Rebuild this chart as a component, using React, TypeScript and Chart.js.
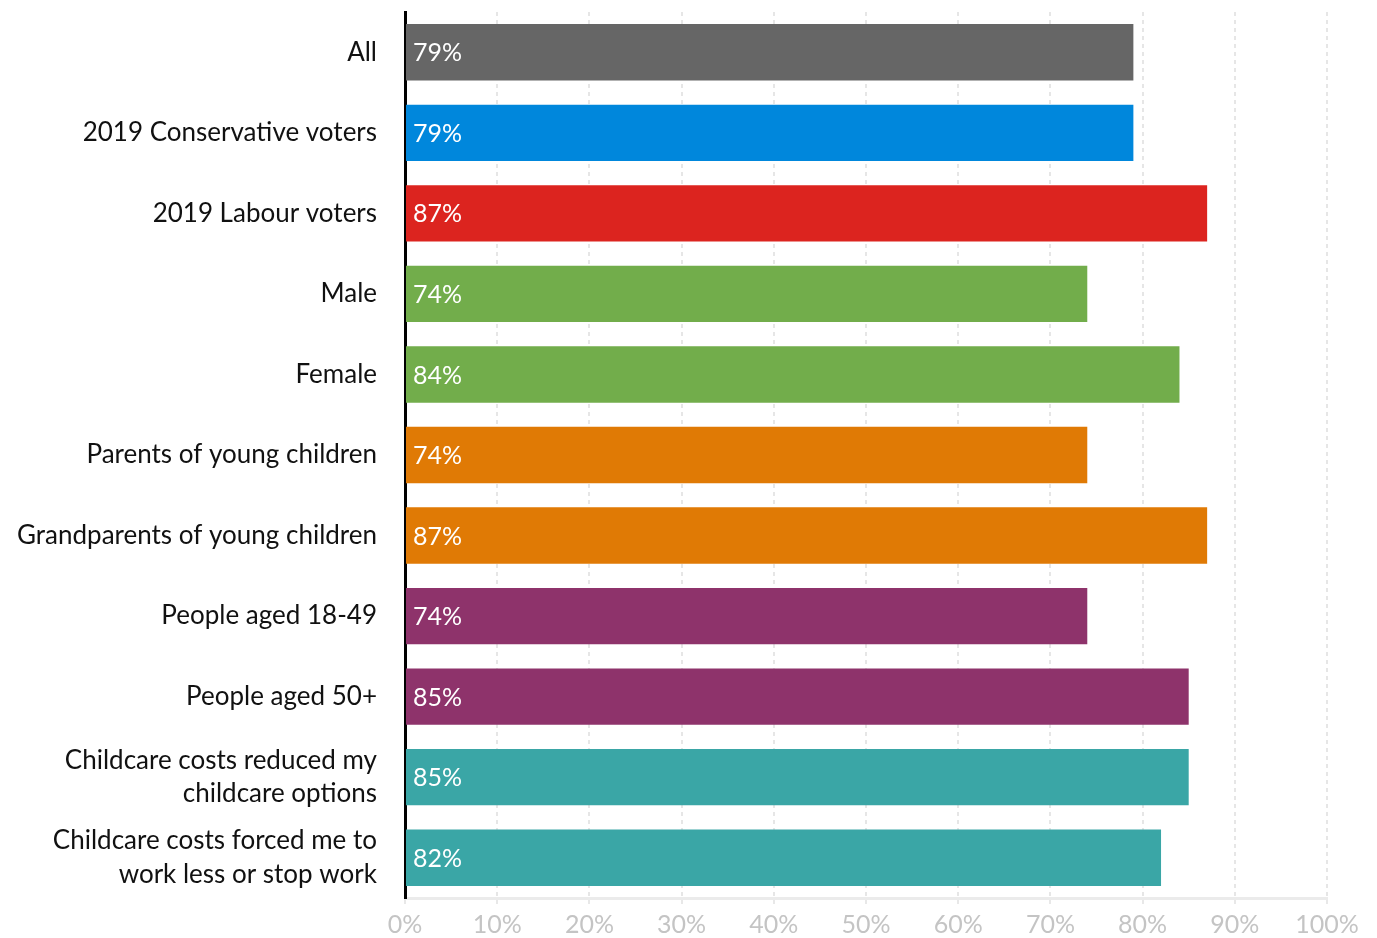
import React, { useEffect, useRef } from "react";
import { Chart, registerables } from "chart.js";

Chart.register(...registerables);

const categories: (string | string[])[] = [
  "All",
  "2019 Conservative voters",
  "2019 Labour voters",
  "Male",
  "Female",
  "Parents of young children",
  "Grandparents of young children",
  "People aged 18-49",
  "People aged 50+",
  ["Childcare costs reduced my", "childcare options"],
  ["Childcare costs forced me to", "work less or stop work"],
];

const values: number[] = [79, 79, 87, 74, 84, 74, 87, 74, 85, 85, 82];

const barColors: string[] = [
  "#666666",
  "#0087dc",
  "#dc241f",
  "#72ad4b",
  "#72ad4b",
  "#e07a05",
  "#e07a05",
  "#8e336b",
  "#8e336b",
  "#3aa6a6",
  "#3aa6a6",
];

const xTicks: number[] = [0, 10, 20, 30, 40, 50, 60, 70, 80, 90, 100];

const FONT = "Lato, 'Source Sans Pro', 'Open Sans', sans-serif";

const valueLabelPlugin = {
  id: "valueLabels",
  afterDatasetsDraw(chart: any) {
    const ctx = chart.ctx;
    const meta = chart.getDatasetMeta(0);
    const xScale = chart.scales.x;
    ctx.save();
    ctx.fillStyle = "#ffffff";
    ctx.font = `25px ${FONT}`;
    ctx.textAlign = "left";
    ctx.textBaseline = "middle";
    meta.data.forEach((bar: any, i: number) => {
      ctx.fillText(values[i] + "%", xScale.getPixelForValue(0) + 8, bar.y + 1);
    });
    ctx.restore();
  },
};

export default function App() {
  const ref = useRef<HTMLCanvasElement | null>(null);

  useEffect(() => {
    if (!ref.current) return;
    const chart = new Chart(ref.current, {
      type: "bar",
      data: {
        labels: categories,
        datasets: [
          {
            data: values,
            backgroundColor: barColors,
            borderWidth: 0,
            barPercentage: 0.7,
            categoryPercentage: 1,
          },
        ],
      },
      options: {
        indexAxis: "y",
        animation: false,
        responsive: true,
        maintainAspectRatio: false,
        layout: { padding: { top: 12, right: 50, bottom: 0, left: 0 } },
        plugins: {
          legend: { display: false },
          tooltip: { enabled: false },
        },
        scales: {
          x: {
            min: 0,
            max: 100,
            afterBuildTicks: (axis: any) => {
              axis.ticks = xTicks.map((v) => ({ value: v }));
            },
            afterFit: (scale: any) => {
              scale.height = 40;
              scale.paddingBottom = 0;
            },
            ticks: {
              callback: (v: any) => v + "%",
              color: "#c4c4c4",
              font: { family: FONT, size: 25, lineHeight: 1 },
              padding: 8,
              maxRotation: 0,
            },
            grid: {
              color: "#e6e6e6",
              lineWidth: 2,
              drawTicks: true,
              tickLength: 6,
              tickColor: "#e8e8e8",
            } as any,
            border: { color: "#ebebeb", width: 3, dash: [4, 4] } as any,
          },
          y: {
            afterFit: (scale: any) => {
              scale.width = 405;
              scale.paddingTop = 0;
              scale.paddingBottom = 0;
            },
            ticks: {
              color: "#111111",
              font: { family: FONT, size: 26, lineHeight: 1.3 },
              padding: 28,
            },
            grid: { display: false, drawTicks: false },
            border: { color: "#000000", width: 3 },
          },
        },
      },
      plugins: [valueLabelPlugin],
    });
    return () => chart.destroy();
  }, []);

  return (
    <div style={{ position: "fixed", left: 0, top: 0, width: 1377, height: 938, background: "#fff" }}>
      <canvas ref={ref} />
    </div>
  );
}
